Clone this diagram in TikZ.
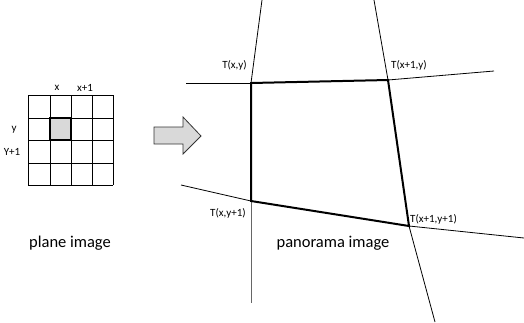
\documentclass[tikz,border=0pt]{standalone}
\usepackage{fontspec}
\setmainfont{Carlito}
\begin{document}
\begin{tikzpicture}[x=1pt,y=-1pt,
  thin line/.style={line width=0.8pt,black},
  thick line/.style={line width=2pt,black},
  lbl/.style={font=\fontsize{11}{12}\selectfont,inner sep=0pt},
  captext/.style={font=\fontsize{16.5}{18}\selectfont,inner sep=0pt}]
\useasboundingbox (0,0) rectangle (524,322);
% plane grid
\fill[gray!30] (50,118) rectangle (71,140);
\foreach \x in {28,50,71,92,113} \draw[line width=1pt] (\x,95) -- (\x,185);
\foreach \y in {95,118,140,163,185} \draw[line width=1pt] (28,\y) -- (113,\y);
\draw[line width=1.6pt] (50,118) rectangle (71,140);
\node[lbl] (lx) at (57,88) {x};
\node[lbl] (lx1) at (85,88) {x+1};
\node[lbl] (ly) at (14,130) {y};
\node[lbl] (ly1) at (12,152) {Y+1};
\node[captext] (plane) at (70,243) {plane image};
% arrow
\draw[fill=gray!30,line width=0.8pt,draw=black!80]
  (154,127) -- (183,127) -- (183,117) -- (201,136) -- (183,154) -- (183,144) -- (154,144) -- cycle;
% panorama
\coordinate (TL) at (251,83);
\coordinate (TR) at (388,80);
\coordinate (BL) at (251,201);
\coordinate (BR) at (409,226);
\coordinate (h1a) at (186,83);
\coordinate (h1b) at (494,71);
\coordinate (v1a) at (262,0);
\coordinate (v1b) at (251,303);
\coordinate (v2a) at (374,0);
\coordinate (v2b) at (435,322);
\coordinate (h2a) at (181,185);
\coordinate (h2b) at (524,238);
\draw[thin line] (h1a) -- (TL);
\draw[thin line] (TR) -- (h1b);
\draw[thin line] (v1a) -- (TL);
\draw[thin line,black!60] (BL) -- (v1b);
\draw[thin line] (v2a) -- (TR);
\draw[thin line] (BR) -- (v2b);
\draw[thin line] (h2a) -- (BL);
\draw[thin line] (BR) -- (h2b);
\draw[thick line,line join=miter] (TL) -- (TR) -- (BR) -- (BL) -- cycle;
\node[lbl,anchor=east] (tl) at (247,65) {T(x,y)};
\node[lbl,anchor=west] (tr) at (391,65) {T(x+1,y)};
\node[lbl,anchor=east] (bl) at (246,213) {T(x,y+1)};
\node[lbl,anchor=west] (br) at (410,219) {T(x+1,y+1)};
\node[captext] (pano) at (333,243) {panorama image};
\end{tikzpicture}
\end{document}
